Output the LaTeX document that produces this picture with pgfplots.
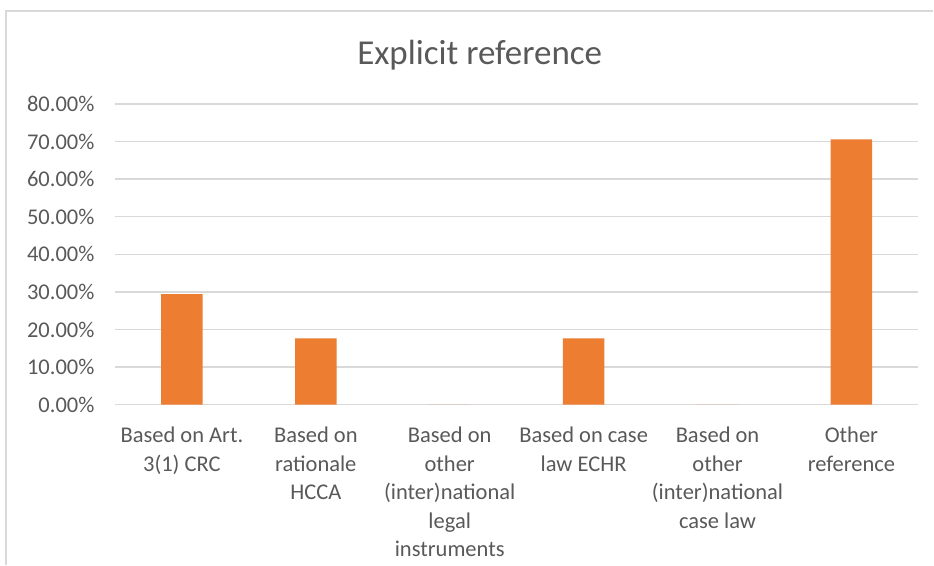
\documentclass[border=0pt]{standalone}
\usepackage{fontspec}
\setmainfont{Carlito}
\usepackage{pgfplots}
\pgfplotsset{compat=1.18}
\definecolor{barorange}{HTML}{ED7D31}
\definecolor{gridgray}{HTML}{D9D9D9}
\definecolor{txtgray}{HTML}{595959}
\definecolor{framegray}{HTML}{D9D9D9}
\begin{document}
\begin{tikzpicture}[x=1pt,y=1pt]
\path (0,0) rectangle (934,565);
\draw[framegray,line width=1.2pt] (6,0) -- (6,554) -- (934,554);
\node[txtgray,font=\fontsize{35}{42}\selectfont] at (480,510) {Explicit reference};
\begin{axis}[
    at={(115pt,160pt)},
    anchor=south west,
    scale only axis,
    width=804pt,
    height=301pt,
    ymin=0, ymax=80,
    ytick={0,10,...,80},
    xmin=-0.5, xmax=5.5,
    xtick=data,
    xticklabels={{Based on Art.\\3(1) CRC},{Based on\\rationale\\HCCA},{Based on\\other\\(inter)national\\legal\\instruments},{Based on case\\law ECHR},{Based on\\other\\(inter)national\\case law},{Other\\reference}},
    x tick label style={align=center,font=\fontsize{22.5}{28.5}\selectfont,text=txtgray,anchor=north,yshift=-19pt},
    y tick label style={font=\fontsize{22.5}{28}\selectfont,text=txtgray,anchor=east,xshift=-17pt},
    /pgf/number format/assume math mode=true,
    yticklabel={\pgfmathprintnumber[fixed,fixed zerofill,precision=2]{\tick}\%},
    ymajorgrids,
    grid style={gridgray,line width=1.3pt},
    axis line style={draw=none},
    major tick length=0pt,
    ybar,
    bar width=41.5pt,
    clip=false,
]
\draw[gridgray,line width=1.3pt] (axis cs:-0.5,0) -- (axis cs:5.5,0);
\addplot[fill=barorange,draw=none] coordinates {
    (0,29.41) (1,17.65) (2,0) (3,17.65) (4,0) (5,70.59)
};
\end{axis}
\end{tikzpicture}
\end{document}
